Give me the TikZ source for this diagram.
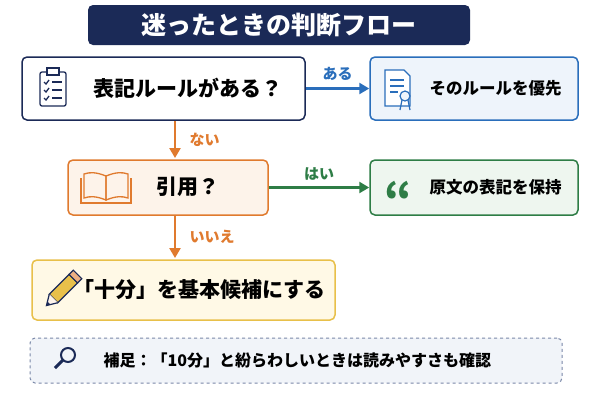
\documentclass[tikz,border=0pt]{standalone}
\usepackage{fontspec}
\setmainfont{Noto Sans CJK JP}
\usetikzlibrary{arrows.meta}
\definecolor{navy}{HTML}{1B2A57}
\definecolor{bl}{HTML}{2A6EBB}
\definecolor{blf}{HTML}{EEF4FB}
\definecolor{orn}{HTML}{E07A2E}
\definecolor{ornf}{HTML}{FDF3EA}
\definecolor{grn}{HTML}{2E7D46}
\definecolor{grnf}{HTML}{EEF6EF}
\definecolor{yel}{HTML}{E8C04A}
\definecolor{yelf}{HTML}{FFF9E6}
\definecolor{gry}{HTML}{7A88A8}
\definecolor{gryf}{HTML}{F1F4F9}
\begin{document}
\begin{tikzpicture}[x=1pt,y=-1pt,
 box/.style={draw,rounded corners=5pt,line width=1.5pt},
 lab/.style={font=\bfseries\fontsize{15}{15}\selectfont},
 txt/.style={font=\bfseries\fontsize{21}{21}\selectfont,anchor=west},
 stxt/.style={font=\bfseries\fontsize{16.5}{16.5}\selectfont,anchor=west},
 arr/.style={line width=2.5pt,-{Triangle[length=10pt,width=11pt]}}]
\useasboundingbox (0,0) rectangle (600,400);
\fill[white] (0,0) rectangle (600,400);
% title
\node[fill=navy,rounded corners=5pt,minimum width=382pt,minimum height=40pt,text=white,font=\bfseries\fontsize{25}{25}\selectfont] (title) at (279,25) {迷ったときの判断フロー};
% boxes
\node[box,draw=navy,fill=white,minimum width=283pt,minimum height=63pt] (b1) at (163.5,88.5) {};
\node[box,draw=bl,fill=blf,minimum width=208pt,minimum height=63pt] (b2) at (474,88.5) {};
\node[box,draw=orn,fill=ornf,minimum width=200pt,minimum height=55pt] (b3) at (168,187.5) {};
\node[box,draw=grn,fill=grnf,minimum width=208pt,minimum height=55pt] (b4) at (474,187.5) {};
\node[box,draw=yel,fill=yelf,minimum width=303pt,minimum height=60pt] (b5) at (183.5,290) {};
\node[draw=gry,dashed,rounded corners=5pt,fill=gryf,line width=1pt,minimum width=532pt,minimum height=45pt] (b6) at (296,360.5) {};
% texts
\node[txt] (t1) at (90,88) {表記ルールがある？};
\node[stxt] (t2) at (426,88) {そのルールを優先};
\node[txt] (t3) at (153,187) {引用？};
\node[stxt] (t4) at (426,187) {原文の表記を保持};
\node[txt] (t5) at (70,290) {「十分」を基本候補にする};
\node[font=\bfseries\fontsize{16}{16}\selectfont,anchor=west] (t6) at (100,360) {補足：「10分」と紛らわしいときは読みやすさも確認};
% arrows
\draw[arr,bl] (b1.east) -- (b2.west) node[midway,above=3pt,lab,text=bl]{ある};
\draw[arr,orn] (b1.south -| 175,0) -- (175,158) node[midway,right=10pt,lab,text=orn]{ない};
\draw[arr,grn] (b3.east) -- (b4.west) node[midway,above=3pt,lab,text=grn]{はい};
\draw[arr,orn] (175,215) -- (175,258) node[midway,right=10pt,lab,text=orn]{いいえ};
% clipboard icon
\begin{scope}[navy,line width=1.3pt]
\draw[rounded corners=2pt] (40,72) rectangle (66,106);
\draw[fill=white] (47,68) rectangle (59,75);
\foreach \y in {82,90,98}{\draw (44,\y) -- (46,\y+2) -- (49,\y-2); \draw (52,\y) -- (62,\y);}
\end{scope}
% certificate icon
\begin{scope}[bl,line width=1.2pt]
\draw[fill=white] (385,70) -- (404,70) -- (410,76) -- (410,106) -- (385,106) -- cycle;
\draw (390,80) -- (404,80) (390,86) -- (404,86) (390,92) -- (398,92);
\draw[fill=blf] (405,96) circle (5);
\draw (402,100) -- (400,110) (408,100) -- (410,110);
\end{scope}
% book icon
\begin{scope}[orn,line width=1.3pt,fill=ornf]
\draw (106,176) .. controls (96,172) and (90,172) .. (84,174) -- (84,198) .. controls (90,196) and (96,196) .. (106,200) -- cycle;
\draw (106,176) .. controls (116,172) and (122,172) .. (128,174) -- (128,198) .. controls (122,196) and (116,196) .. (106,200) -- cycle;
\draw (81,178) -- (81,203) -- (131,203) -- (131,178);
\end{scope}
% quote
\node[grn,font=\bfseries\fontsize{44}{44}\selectfont] (q) at (398,198) {“};
% pencil
\begin{scope}[rotate around={45:(62,290)},line width=1.2pt,draw=navy]
\fill[yel] (50,284) rectangle (78,296); \draw (50,284) rectangle (78,296);
\fill[orn!60] (78,284) rectangle (84,296); \draw (78,284) rectangle (84,296);
\fill[ornf] (50,284) -- (40,290) -- (50,296) -- cycle; \draw (50,284) -- (40,290) -- (50,296);
\fill[navy] (40,290) -- (43.5,288) -- (43.5,292) -- cycle;
\end{scope}
% magnifier
\begin{scope}[navy,line width=2pt]
\draw (68,355) circle (7);
\draw[line width=3pt] (63,360) -- (55,368);
\end{scope}
\end{tikzpicture}
\end{document}
